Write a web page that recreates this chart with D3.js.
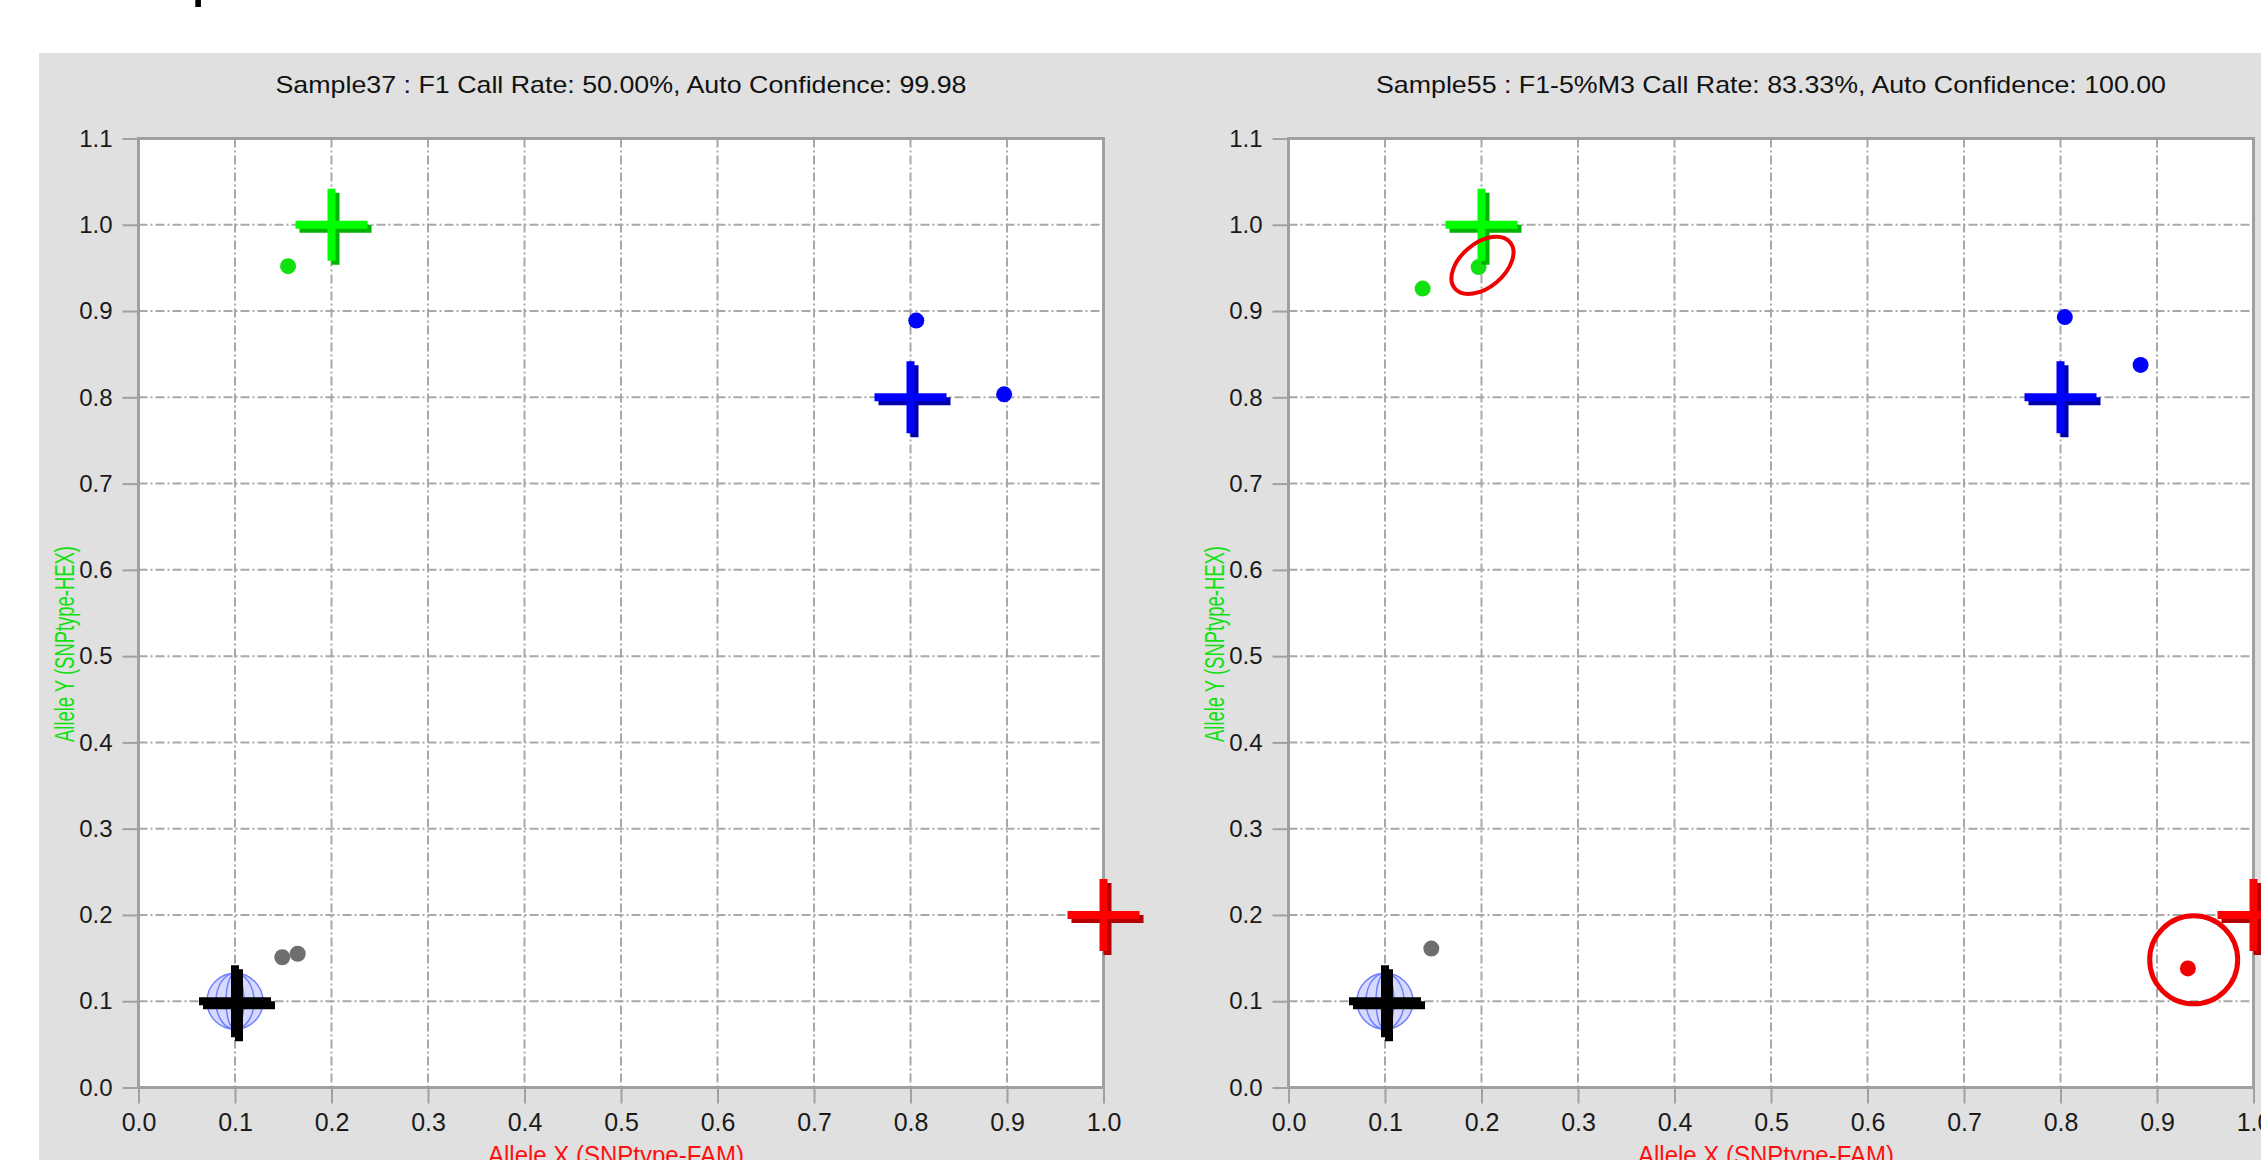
<!DOCTYPE html>
<html>
<head>
<meta charset="utf-8">
<script src="https://cdn.jsdelivr.net/npm/d3@7/dist/d3.min.js"></script>
<style>
  body { margin: 0; background: #fff; }
  svg { display: block; }
  text { font-family: "Liberation Sans", Arial, sans-serif; }
</style>
</head>
<body>
<div id="chart"></div>
<script>

// titles of the two cluster plots
var titles = [
	"Sample37 : F1 Call Rate: 50.00%, Auto Confidence: 99.98",
	"Sample55 : F1-5%M3 Call Rate: 83.33%, Auto Confidence: 100.00"
];
var xLabel = "Allele X (SNPtype-FAM)";
var yLabel = "Allele Y (SNPtype-HEX)";

var xTickValues = [0.0, 0.1, 0.2, 0.3, 0.4, 0.5, 0.6, 0.7, 0.8, 0.9, 1.0];
var yTickValues = [0.0, 0.1, 0.2, 0.3, 0.4, 0.5, 0.6, 0.7, 0.8, 0.9, 1.0, 1.1];

// cluster centroids: 0 = NTC, 1 = Allele Y, 2 = both, 3 = Allele X
var centroidX = [0.1, 0.2, 0.8, 1.0];
var centroidY = [0.1, 1.0, 0.8, 0.2];
var crossColors = ["#000000", "#00ff00", "#0000ff", "#ff0000"];
var crossShadows = ["#000000", "#00b400", "#0000a8", "#b40000"];
var dotColors = ["#6e6e6e", "#11e011", "#0000ff", "#f00000"];

// sample points of each plot
var sample37X = [0.155, 0.806, 0.897, 0.149, 0.165];
var sample37Y = [0.952, 0.889, 0.8035, 0.151, 0.155];
var sample37Call = [1, 2, 2, 0, 0];

var sample55X = [0.139, 0.197, 0.8045, 0.883, 0.932, 0.148];
var sample55Y = [0.926, 0.951, 0.893, 0.8375, 0.138, 0.161];
var sample55Call = [1, 1, 2, 2, 3, 0];

// red hand-drawn marks on the second plot
var markX = [0.201, 0.938];
var markY = [0.953, 0.148];

var W = 2261, H = 1160;
var plotW = 965, plotH = 949;
var plotTop = 138.5;
var plotLefts = [138.5, 1288.5];

var svg = d3.select("#chart").append("svg")
	.attr("width", W)
	.attr("height", H);

// gray window background
svg.append("rect")
	.attr("x", 39).attr("y", 53)
	.attr("width", W - 39).attr("height", H - 53)
	.attr("fill", "#e0e0e0");

// cut-off glyph at the very top, only its descender shows
svg.append("text")
	.attr("x", 191).attr("y", -6)
	.attr("font-size", 64)
	.attr("fill", "#000")
	.text("p");

var x = d3.scaleLinear().domain([0, 1]).range([0, plotW]);
var y = d3.scaleLinear().domain([0, 1.1]).range([plotH, 0]);

function drawPlot(p, title, xs, ys, calls, marks) {
	var g = svg.append("g")
		.attr("transform", "translate(" + plotLefts[p] + "," + plotTop + ")");

	g.append("text")
		.attr("x", plotW / 2)
		.attr("y", -46)
		.attr("text-anchor", "middle")
		.attr("font-size", 24)
		.attr("fill", "#111")
		.attr("textLength", p == 0 ? 691 : 790)
		.attr("lengthAdjust", "spacingAndGlyphs")
		.text(title);

	g.append("rect")
		.attr("width", plotW).attr("height", plotH)
		.attr("fill", "#fff");

	// grid
	g.selectAll(".vgrid")
		.data(xTickValues.slice(1, -1))
		.enter().append("line")
		.attr("x1", function (d) { return x(d); })
		.attr("x2", function (d) { return x(d); })
		.attr("y1", 0).attr("y2", plotH)
		.attr("stroke", "#a8a8a8")
		.attr("stroke-width", 2)
		.attr("stroke-dasharray", "9,3,2,3");

	g.selectAll(".hgrid")
		.data(yTickValues.slice(1, -1))
		.enter().append("line")
		.attr("y1", function (d) { return y(d); })
		.attr("y2", function (d) { return y(d); })
		.attr("x1", 0).attr("x2", plotW)
		.attr("stroke", "#a8a8a8")
		.attr("stroke-width", 2)
		.attr("stroke-dasharray", "9,3,2,3");

	g.append("rect")
		.attr("width", plotW).attr("height", plotH)
		.attr("fill", "none")
		.attr("stroke", "#a0a0a0")
		.attr("stroke-width", 3);

	// axes
	var xAxis = d3.axisBottom(x)
		.tickValues(xTickValues)
		.tickFormat(d3.format(".1f"))
		.tickSize(16)
		.tickPadding(10);
	var yAxis = d3.axisLeft(y)
		.tickValues(yTickValues)
		.tickFormat(d3.format(".1f"))
		.tickSize(16)
		.tickPadding(10);

	var gx = g.append("g")
		.attr("transform", "translate(0," + plotH + ")")
		.call(xAxis);
	var gy = g.append("g").call(yAxis);

	[gx, gy].forEach(function (a) {
		a.select(".domain").remove();
		a.selectAll(".tick line").attr("stroke", "#a0a0a0").attr("stroke-width", 2);
		a.selectAll(".tick text")
			.attr("fill", "#1a1a1a")
			.style("font-family", "'Liberation Sans', Arial, sans-serif");
	});
	gx.selectAll(".tick text").attr("font-size", 25);
	gy.selectAll(".tick text").attr("font-size", 24);

	g.append("text")
		.attr("x", plotW / 2 - 5)
		.attr("y", plotH + 76)
		.attr("text-anchor", "middle")
		.attr("font-size", 25)
		.attr("fill", "#ff1010")
		.attr("textLength", 256)
		.attr("lengthAdjust", "spacingAndGlyphs")
		.text(xLabel);

	g.append("text")
		.attr("transform", "translate(-65," + (plotH / 2 + 31) + ") rotate(-90)")
		.attr("text-anchor", "middle")
		.attr("font-size", 28)
		.attr("fill", "#10e010")
		.attr("textLength", 196)
		.attr("lengthAdjust", "spacingAndGlyphs")
		.text(yLabel);

	// NTC globe behind the black centroid
	var globe = g.append("g")
		.attr("transform", "translate(" + x(centroidX[0]) + "," + y(centroidY[0]) + ")");
	globe.append("circle").attr("r", 28)
		.attr("fill", "rgba(140,150,255,0.35)")
		.attr("stroke", "#7080ff").attr("stroke-width", 1.5);
	[9, 19].forEach(function (rx) {
		globe.append("ellipse").attr("rx", rx).attr("ry", 28)
			.attr("fill", "none")
			.attr("stroke", "#7080ff").attr("stroke-width", 1.5);
	});

	// sample dots
	g.selectAll(".dot")
		.data(xs)
		.enter().append("circle")
		.attr("cx", function (d) { return x(d); })
		.attr("cy", function (d, i) { return y(ys[i]); })
		.attr("r", 8)
		.attr("fill", function (d, i) { return dotColors[calls[i]]; });

	// centroid crosses
	var arm = 36;
	centroidX.forEach(function (cx, i) {
		var c = g.append("g")
			.attr("transform", "translate(" + x(cx) + "," + y(centroidY[i]) + ")");
		c.append("path")
			.attr("d", "M" + (-arm + 4) + ",4H" + (arm + 4) + "M4," + (-arm + 4) + "V" + (arm + 4))
			.attr("stroke", crossShadows[i])
			.attr("stroke-width", 8);
		c.append("path")
			.attr("d", "M" + (-arm) + ",0H" + arm + "M0," + (-arm) + "V" + arm)
			.attr("stroke", crossColors[i])
			.attr("stroke-width", 8);
	});

	// red marks
	if (marks) {
		g.append("ellipse")
			.attr("transform", "translate(" + x(markX[0]) + "," + y(markY[0]) + ") rotate(-40)")
			.attr("rx", 36).attr("ry", 22)
			.attr("fill", "none")
			.attr("stroke", "#f00000")
			.attr("stroke-width", 4);
		g.append("circle")
			.attr("cx", x(markX[1]))
			.attr("cy", y(markY[1]))
			.attr("r", 44)
			.attr("fill", "none")
			.attr("stroke", "#f00000")
			.attr("stroke-width", 5);
	}
}

drawPlot(0, titles[0], sample37X, sample37Y, sample37Call, false);
drawPlot(1, titles[1], sample55X, sample55Y, sample55Call, true);

</script>
</body>
</html>
